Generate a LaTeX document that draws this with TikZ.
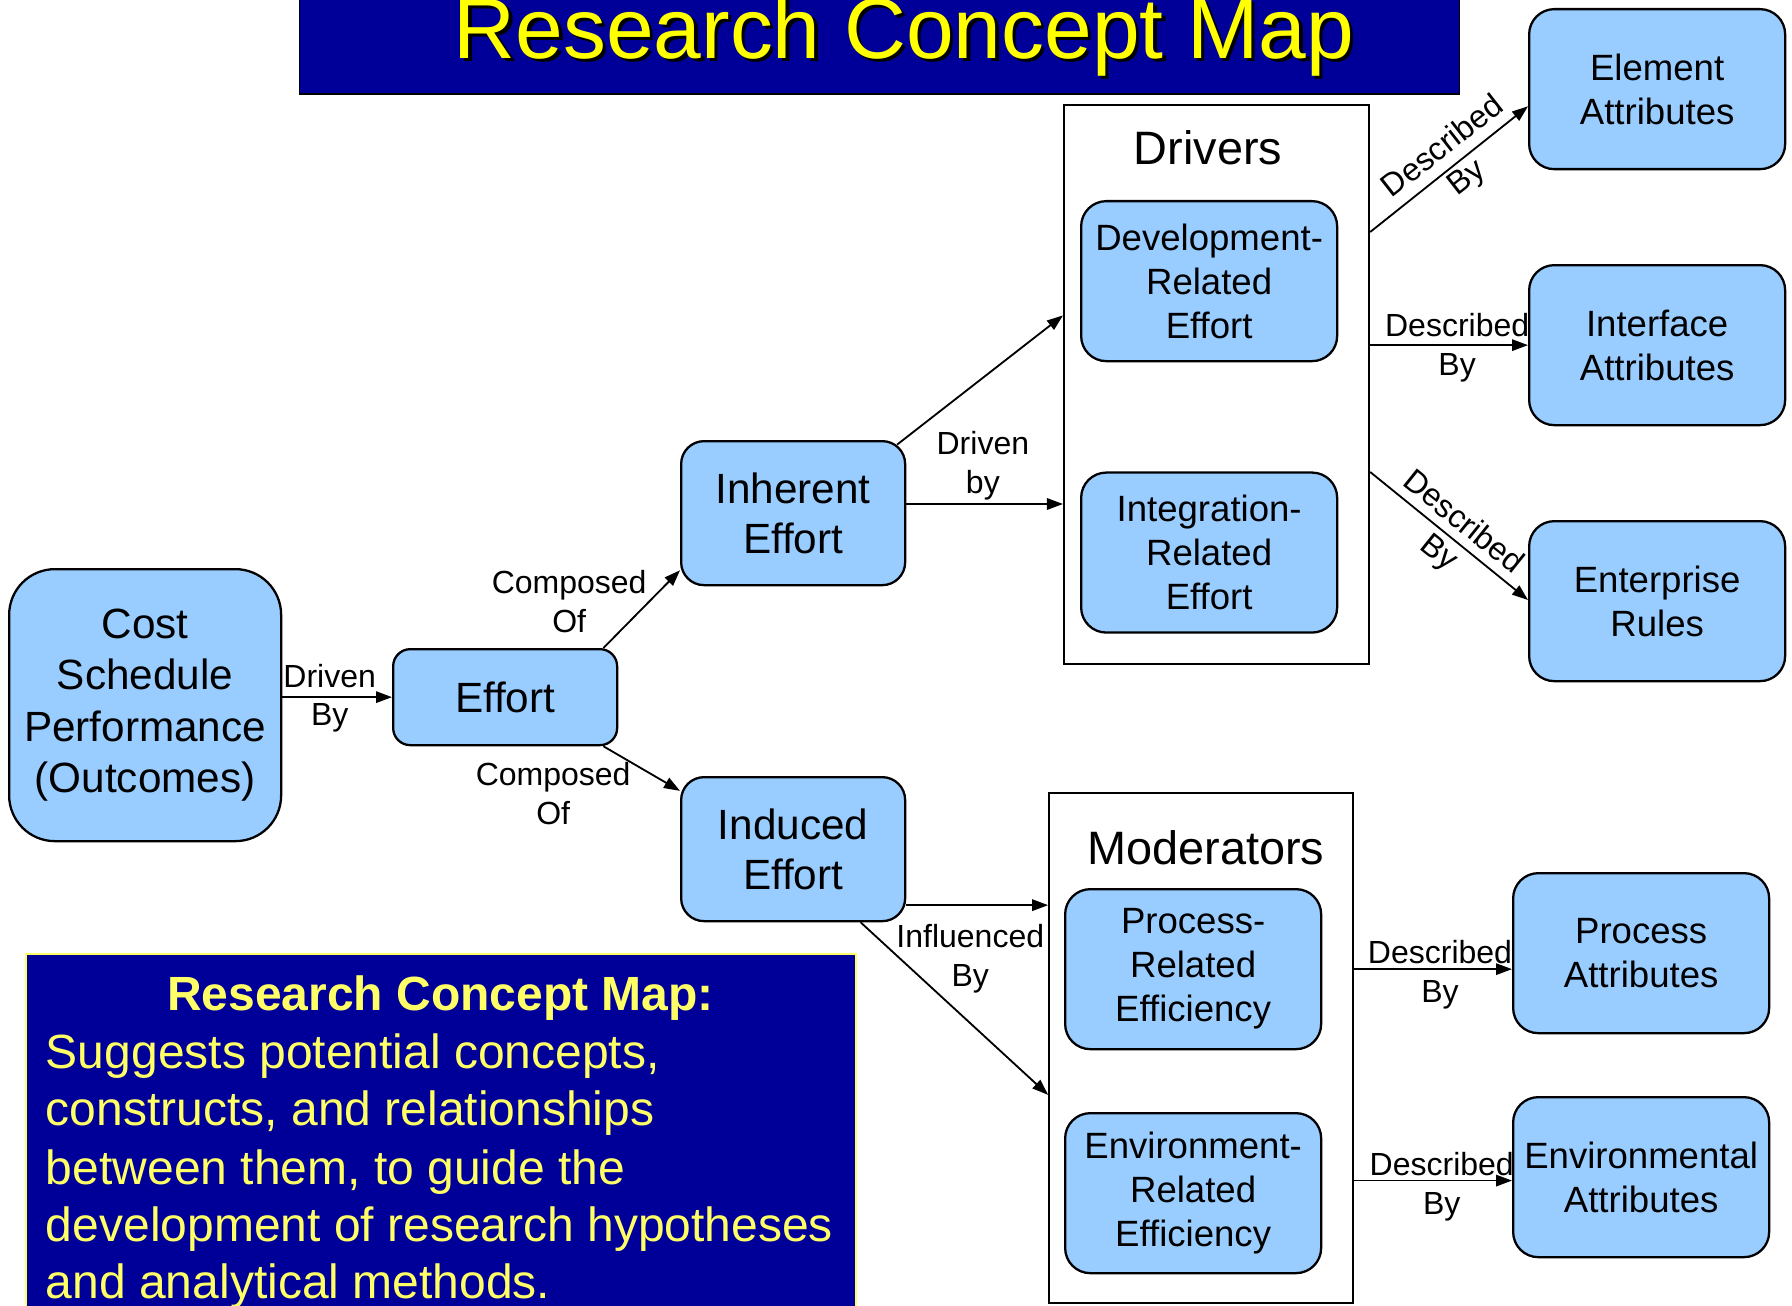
\documentclass[tikz,border=0pt]{standalone}
\usepackage{fontspec}
\setmainfont{Liberation Sans}
\usetikzlibrary{arrows.meta,calc}
\definecolor{boxblue}{HTML}{99CCFF}
\definecolor{navy}{HTML}{000099}
\definecolor{ttlyellow}{HTML}{FFFF00}
\definecolor{txtyellow}{HTML}{FFFF66}
\newcommand{\fsz}[2]{\fontsize{#1}{#2}\selectfont}
\begin{document}
\begin{tikzpicture}[x=1pt,y=-1pt,
  concept/.style={draw=black, line width=2pt, fill=boxblue, rounded corners=22pt, align=center, inner sep=0pt, minimum width=224pt, minimum height=140pt, font=\fsz{32}{38.5}},
  effbox/.style={draw=black, line width=2pt, fill=boxblue, rounded corners=20pt, align=center, inner sep=0pt, minimum width=196pt, minimum height=126pt, font=\fsz{37}{44}},
  group/.style={draw=black, line width=1.8pt, fill=white, inner sep=0pt},
  grouptitle/.style={inner sep=0pt, font=\fsz{41}{48}},
  lbl/.style={align=center, inner sep=0pt, font=\fsz{28}{34}},
  arr/.style={line width=1.6pt, -{Triangle[length=14pt,width=10pt]}},
  infotext/.style={anchor=base west, inner sep=0pt, text=txtyellow, font=\fsz{42}{50}},
]
\useasboundingbox (0,0) rectangle (1568,1142);
\clip (0,0) rectangle (1568,1142);

% title
\node[fill=navy, draw=black, line width=1.5pt, minimum width=1015pt, minimum height=100pt, inner sep=0pt] (titlebox) at (769.5,32) {};
\node[anchor=base, inner sep=0pt, text=black, font=\fsz{75}{80}] (titleshadow) at (794,54) {Research Concept Map};
\node[anchor=base, inner sep=0pt, text=ttlyellow, font=\fsz{75}{80}] (title) at (791,51) {Research Concept Map};

% containers
\node[group, minimum width=267pt, minimum height=489pt] (drv) at (1064.5,336.5) {};
\node[grouptitle] (drvtitle) at (1057,129) {Drivers};
\node[group, minimum width=266pt, minimum height=446pt] (mod) at (1051,917) {};
\node[grouptitle] (modtitle) at (1055,742) {Moderators};

% concept nodes
\node[concept, rounded corners=40pt, minimum width=238pt, minimum height=238pt, font=\fsz{37}{45}] (cost) at (127,617) {Cost\\Schedule\\Performance\\(Outcomes)};
\node[effbox, rounded corners=15pt, minimum height=84pt] (effort) at (442,610) {Effort};
\node[effbox] (inh) at (694,449) {Inherent\\Effort};
\node[effbox] (ind) at (694,743) {Induced\\Effort};

\node[concept] (dev) at (1058,246) {Development-\\Related\\Effort};
\node[concept] (integ) at (1058,483.5) {Integration-\\Related\\Effort};
\node[concept] (elem) at (1450,78) {Element\\Attributes};
\node[concept] (intf) at (1450,302) {Interface\\Attributes};
\node[concept] (ent) at (1450,526) {Enterprise\\Rules};

\node[concept] (proc) at (1044,848) {Process-\\Related\\Efficiency};
\node[concept] (envr) at (1044,1044) {Environment-\\Related\\Efficiency};
\node[concept] (pattr) at (1436,834) {Process\\Attributes};
\node[concept] (eattr) at (1436,1030) {Environmental\\Attributes};

% helper coordinates
\coordinate (y93) at (0,93);
\coordinate (y203) at (0,203);
\coordinate (y276) at (0,276);
\coordinate (y413) at (0,413);
\coordinate (y441) at (0,441);
\coordinate (y525) at (0,525);
\coordinate (y792) at (0,792);
\coordinate (y848) at (0,848);
\coordinate (y958) at (0,958);
\coordinate (y1033) at (0,1033);

% connectors
\draw[arr] (cost.east |- effort.west) -- (effort.west);
\draw[arr] ($(effort.north east)+(-13,0)$) -- ($(inh.south west)+(0,-14)$);
\draw[arr] ($(effort.south east)+(-13,0)$) -- ($(ind.north west)+(0,13)$);
\draw[arr] ($(inh.north east)+(-8,4)$) -- (drv.west |- y276);
\draw[arr] (inh.east |- y441) -- (drv.west |- y441);
\draw[arr] (drv.east |- y203) -- (elem.west |- y93);
\draw[arr] (drv.east |- intf.west) -- (intf.west);
\draw[arr] (drv.east |- y413) -- (ent.west |- y525);
\draw[arr] (ind.east |- y792) -- (mod.west |- y792);
\draw[arr] ($(ind.south east)+(-40,0)$) -- (mod.west |- y958);
\draw[arr] (mod.east |- y848) -- (pattr.west |- y848);
\draw[arr] (mod.east |- y1033) -- (eattr.west |- y1033);

% connector labels
\node[lbl] (l1) at (288.5,611) {Driven\\By};
\node[lbl] (l2) at (498,526.5) {Composed\\Of};
\node[lbl] (l3) at (484,694.5) {Composed\\Of};
\node[lbl] (l4) at (860,407.5) {Driven\\by};
\node[lbl, rotate=38] (l5) at (1273.5,142.5) {Described\\By};
\node[lbl] (l6) at (1275,304) {Described\\By};
\node[lbl, rotate=-38.7] (l7) at (1269,471) {Described\\By};
\node[lbl] (l8) at (849,839) {Influenced\\By};
\node[lbl] (l9) at (1260,853) {Described\\By};
\node[lbl] (l10) at (1261.5,1038) {Described\\By};

% info box
\node[fill=navy, draw=txtyellow, line width=1.5pt, minimum width=726pt, minimum height=340pt, inner sep=0pt, anchor=north west] (info) at (22,834) {};
\node[anchor=base, inner sep=0pt, text=txtyellow, font=\bfseries\fsz{42}{50}] (infotitle) at (385.5,884) {Research Concept Map:};
\node[infotext] (i1) at (40,935) {Suggests potential concepts,};
\node[infotext] (i2) at (40,985) {constructs, and relationships};
\node[infotext] (i3) at (40,1036) {between them, to guide the};
\node[infotext] (i4) at (40,1086) {development of research hypotheses};
\node[infotext] (i5) at (40,1136) {and analytical methods.};
\end{tikzpicture}
\end{document}
